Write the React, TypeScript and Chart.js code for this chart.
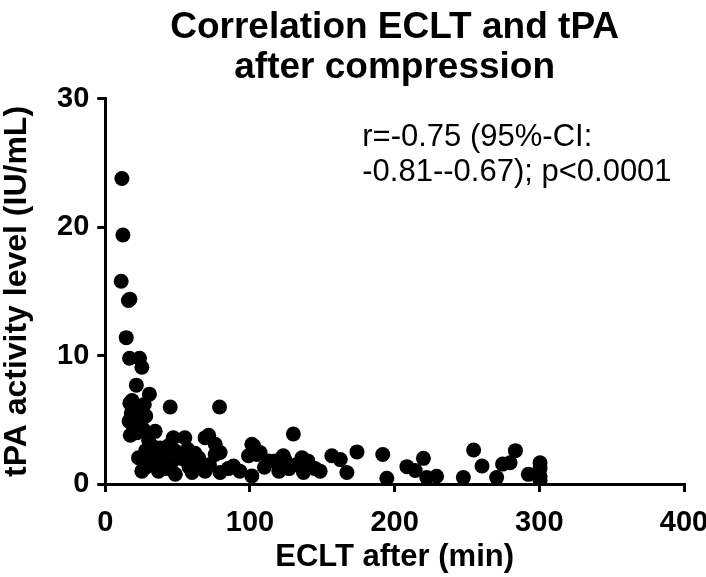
import React, { useEffect, useRef } from "react";
import { Chart, registerables } from "chart.js";

Chart.register(...registerables);

const FONT = "'Liberation Sans', Arial, sans-serif";

const titleLines = ["Correlation ECLT and tPA", "after compression"];
const xTitle = "ECLT after (min)";
const yTitle = "tPA activity level (IU/mL)";
const annotationLines = ["r=-0.75 (95%-CI:", "-0.81--0.67); p<0.0001"];

const xTicks = [0, 100, 200, 300, 400];
const yTicks = [0, 10, 20, 30];

// ECLT after (min)
const ecltValues = [
  11.5, 12.2, 11, 16, 17, 14.5, 16.8, 23.7, 25.3, 21.5, 30.5, 18.5, 44.9, 79,
  17, 20, 22, 27, 18, 21, 16.5, 19, 24, 28, 17.3, 22, 26, 34.5, 30, 28,
  47, 55, 69, 71.5, 76, 64.5, 76, 88.6, 79.4, 79.4, 101.3, 99, 107, 101.3, 117.4, 123, 130, 93, 69, 102.5, 104.8,
  23, 25.3, 36.8, 48.4, 60, 30, 40, 53, 64.5, 33, 45, 58, 28, 38, 50, 42, 55, 62, 67, 72, 85, 26, 35, 48, 57, 44, 32,
  124, 120, 136, 137, 148.5, 156.6, 162.4, 167, 174, 191.8, 194.6, 208.5, 214.2, 219.9, 222.2, 229, 247.5, 254.6,
  260.4, 270.5, 274.6, 279.8, 283.5, 292.4, 300.5, 300.5, 300.5, 300.5,
  110, 113, 127, 132, 140, 145,
];

// tPA activity level (IU/mL)
const tpaValues = [
  23.8, 19.4, 15.8, 14.3, 14.4, 11.4, 9.8, 9.8, 9.1, 7.7, 7.0, 6.5, 6.0, 6.0,
  6.3, 6.0, 5.8, 6.2, 5.5, 5.2, 4.9, 4.6, 4.8, 5.3, 3.8, 4.0, 4.3, 4.1, 3.4, 2.6,
  3.6, 3.6, 3.6, 3.8, 3.1, 2.05, 2.3, 1.4, 0.9, 2.45, 3.1, 2.2, 2.45, 0.63, 1.8, 2.2, 3.9, 1.0, 1.0, 2.97, 2.3,
  2.05, 1.0, 1.0, 0.76, 0.9, 2.6, 2.05, 2.3, 1.8, 1.6, 1.5, 1.3, 1.3, 2.8, 2.0, 1.2, 1.9, 2.4, 1.2, 1.5, 1.2, 1.8, 2.3, 2.6, 2.7, 3.0, 3.0,
  1.9, 1.0, 2.05, 0.9, 1.0, 2.2, 1.9, 0.9, 2.5, 2.3, 0.45, 1.35, 1.05, 2.0, 0.5, 0.6, 0.5, 2.65,
  1.4, 0.5, 1.55, 1.65, 2.6, 0.75, 1.65, 1.2, 0.6, 0.3,
  1.3, 1.8, 1.2, 1.5, 1.8, 1.2,
];

const annotationPlugin = {
  id: "annotationText",
  afterDraw(chart: any) {
    const { ctx, chartArea } = chart;
    ctx.save();
    ctx.fillStyle = "#000";
    ctx.font = `31px ${FONT}`;
    ctx.textAlign = "left";
    ctx.textBaseline = "alphabetic";
    const x = chartArea.left + 257;
    annotationLines.forEach((line, i) => {
      ctx.fillText(line, x, chartArea.top + 47 + i * 35);
    });
    ctx.restore();
  },
};

export default function App() {
  const canvasRef = useRef<HTMLCanvasElement>(null);

  useEffect(() => {
    if (!canvasRef.current) return;
    const data = ecltValues.map((x, i) => ({ x, y: tpaValues[i] }));
    const chart = new Chart(canvasRef.current, {
      type: "scatter",
      data: {
        datasets: [
          {
            data,
            backgroundColor: "#000",
            borderColor: "#000",
            borderWidth: 0,
            pointRadius: 7.5,
            pointHoverRadius: 7.5,
          },
        ],
      },
      options: {
        animation: false,
        responsive: false,
        maintainAspectRatio: false,
        layout: { padding: { left: 1, right: 0, top: 0, bottom: 4 } },
        plugins: {
          legend: { display: false },
          tooltip: { enabled: false },
          title: {
            display: true,
            text: titleLines,
            fullSize: false,
            color: "#000",
            font: { family: FONT, size: 37, weight: "bold", lineHeight: 1.08 },
            padding: { top: 8, bottom: 11 },
          },
        },
        scales: {
          x: {
            type: "linear",
            min: 0,
            max: 400,
            afterBuildTicks: (axis: any) => {
              axis.ticks = xTicks.map((v) => ({ value: v }));
            },
            afterFit: (axis: any) => {
              axis.paddingRight = 22;
            },
            border: { display: true, color: "#000", width: 3 },
            grid: {
              display: true,
              drawOnChartArea: false,
              drawTicks: true,
              tickLength: 8,
              color: "#000",
              lineWidth: 3,
            },
            ticks: {
              color: "#000",
              font: { family: FONT, size: 29, weight: "bold", lineHeight: 1.0 },
              padding: 16,
              maxRotation: 0,
            },
            title: {
              display: true,
              text: xTitle,
              color: "#000",
              font: { family: FONT, size: 31, weight: "bold", lineHeight: 1.0 },
              padding: { top: -11, bottom: 0 },
            },
          },
          y: {
            type: "linear",
            min: 0,
            max: 30,
            afterBuildTicks: (axis: any) => {
              axis.ticks = yTicks.map((v) => ({ value: v }));
            },
            border: { display: true, color: "#000", width: 3 },
            grid: {
              display: true,
              drawOnChartArea: false,
              drawTicks: true,
              tickLength: 8,
              color: "#000",
              lineWidth: 3,
            },
            ticks: {
              color: "#000",
              font: { family: FONT, size: 29, weight: "bold", lineHeight: 1.0 },
              padding: 8,
            },
            title: {
              display: true,
              text: yTitle,
              color: "#000",
              font: { family: FONT, size: 32, weight: "bold", lineHeight: 1.0 },
              padding: { top: 0, bottom: 16 },
            },
          },
        },
      },
      plugins: [annotationPlugin],
    });
    return () => chart.destroy();
  }, []);

  return (
    <div style={{ position: "fixed", left: 0, top: 0, width: 706, height: 577, background: "#fff" }}>
      <canvas ref={canvasRef} width={706} height={577} style={{ width: 706, height: 577, display: "block" }} />
    </div>
  );
}
